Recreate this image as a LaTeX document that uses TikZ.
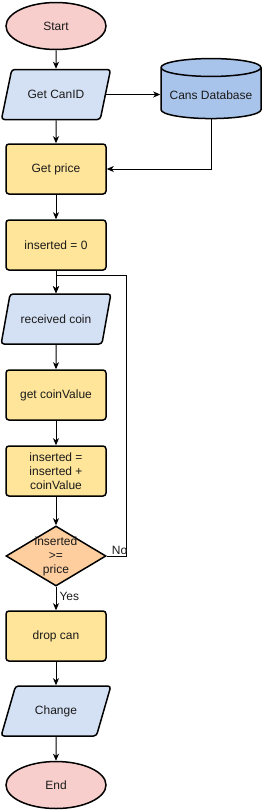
\documentclass[tikz,border=0pt]{standalone}
\usepackage{fontspec}
\setmainfont{Liberation Sans}
\usetikzlibrary{arrows.meta,shapes.geometric}
\definecolor{ink}{HTML}{1A1A1A}
\definecolor{rose}{HTML}{F8CECC}
\definecolor{sky}{HTML}{D4E1F5}
\definecolor{sand}{HTML}{FFE599}
\definecolor{steel}{HTML}{A9C4EB}
\definecolor{peach}{HTML}{FFCE9F}
\tikzset{
  >={Stealth[length=7pt,width=6pt,inset=2pt]},
  shape base/.style={draw=black,line width=1.5pt,text=ink,align=center,
    font=\fontsize{12}{14}\selectfont},
  terminal/.style={shape base,ellipse,fill=rose,minimum width=100pt,minimum height=47pt},
  io/.style={shape base,trapezium,trapezium left angle=64,trapezium right angle=116,
    trapezium stretches=true,fill=sky,rounded corners=3pt,minimum width=110pt,minimum height=50pt},
  process/.style={shape base,rectangle,fill=sand,rounded corners=3pt,minimum width=100pt,minimum height=50pt},
  store/.style={shape base,cylinder,shape border rotate=90,aspect=0.2,fill=steel,
    minimum width=100pt,minimum height=60pt},
  decision/.style={shape base,diamond,fill=peach,minimum width=100pt,minimum height=60pt,inner sep=0pt},
  link/.style={->,line width=1pt,draw=black},
  tag/.style={font=\fontsize{12}{14}\selectfont,text=ink,inner sep=1pt},
}
\begin{document}
\begin{tikzpicture}[x=1pt,y=-1pt]
  \useasboundingbox (0,0) rectangle (263,812);
  % main column
  \node[terminal] (start) at (56,26) {Start};
  \node[io] (canid) at (56,94.5) {Get CanID};
  \node[store] (db) at (211,95) {Cans Database};
  \node[process] (price) at (56,169) {Get price};
  \node[process] (init) at (56,245) {inserted = 0};
  \node[io] (coin) at (56,319) {received coin};
  \node[process] (value) at (56,395) {get coinValue};
  \node[process] (add) at (56,471) {inserted =\\inserted +\\coinValue};
  \node[decision,label={[tag,align=center]center:inserted\\>=\\price}] (check) at (56,556) {};
  \node[process] (drop) at (56,636) {drop can};
  \node[io] (change) at (56,711) {Change};
  \node[terminal] (end) at (56,785) {End};
  \coordinate (back) at (126,275);
  % connectors
  \draw[link] (start) -- (canid);
  \draw[link] (canid.east) -- (canid.east -| db.west);
  \draw[link] (canid) -- (price);
  \draw[link] (db.south) |- (price.east);
  \draw[link] (price) -- (init);
  \draw[link] (init) -- (coin);
  \draw[link] (coin) -- (value);
  \draw[link] (value) -- (add);
  \draw[link] (add) -- (check);
  \draw[link] (check) -- node[tag,pos=0.42,right=2pt] {Yes} (drop);
  \draw[link] (check.east) -| (back) -| (coin.north);
  \node[tag,anchor=south west] (no) at ([xshift=4pt]check.east) {No};
  \draw[link] (drop) -- (change);
  \draw[link] (change) -- (end);
\end{tikzpicture}
\end{document}
